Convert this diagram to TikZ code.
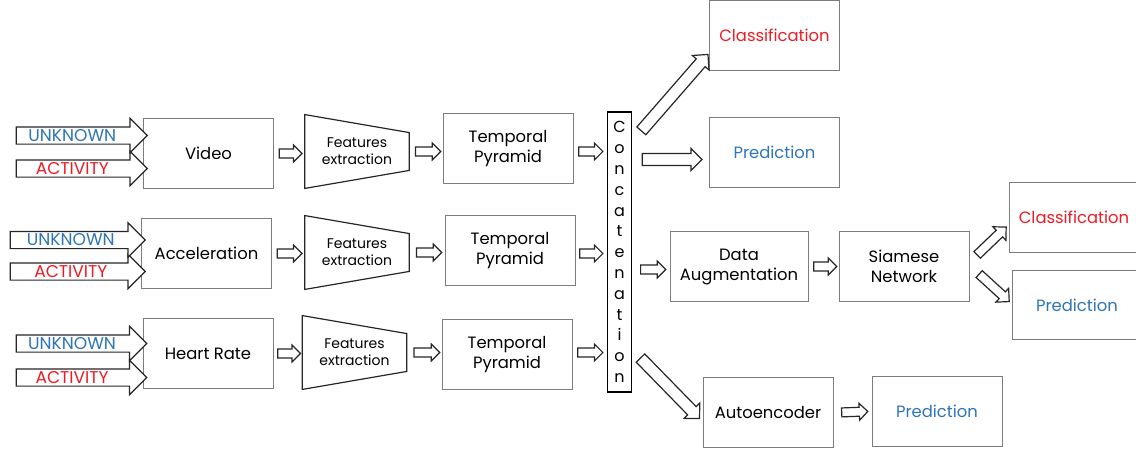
\documentclass[tikz,border=0pt]{standalone}
\usepackage{fontspec}
\setmainfont{Poppins}
\usetikzlibrary{shapes.arrows, calc}
\definecolor{clsRed}{RGB}{237, 28, 36}
\definecolor{predBlue}{RGB}{46, 117, 182}
\definecolor{boxGray}{RGB}{125, 125, 125}

% hollow block arrow drawn between two points
\tikzset{
  link/.style={to path={let \p1=(\tikztostart), \p2=(\tikztotarget), \n1={veclen(\x2-\x1,\y2-\y1)} in
      (\tikztostart) -- (\tikztotarget)
      node[midway, sloped, single arrow, draw=black!85, fill=white, inner xsep=0pt, line width=0.9pt,
           minimum height=\n1, arrow size] {} \tikztonodes}},
}

\begin{document}
\begin{tikzpicture}[x=0.75pt, y=-0.75pt]
  \tikzstyle{block} = [draw=boxGray, line width=0.7pt, rectangle, minimum width=97.5pt, minimum height=52pt, align=center, font=\fontsize{12.3}{15}\selectfont]
  \tikzstyle{fe} = [rectangle, minimum width=78pt, minimum height=55pt, align=center, font=\fontsize{10.5}{13}\selectfont]
  \tikzstyle{trap} = [draw=black!85, line width=0.9pt]
  \tikzstyle{concat} = [draw, line width=1.3pt, minimum width=18pt, minimum height=210pt, inner sep=0pt, align=center, font=\fontsize{12}{15.6}\selectfont]
  \tikzstyle{small} = [link, arrow size/.style={inner ysep=2.9pt, single arrow head extend=3pt}]
  \tikzstyle{big} = [link, arrow size/.style={inner ysep=4pt, single arrow head extend=3.8pt}]
  \tikzstyle{mid} = [link, arrow size/.style={inner ysep=3pt, single arrow head extend=3.6pt}]
  \tikzstyle{input} = [link, arrow size/.style={inner ysep=6pt, single arrow head extend=6.5pt}]
  \tikzstyle{label} = [font=\fontsize{12.8}{14}\selectfont, inner sep=0pt]

  \useasboundingbox (0,0) rectangle (1136,451);

  % sensors
  \node [block] (video) at (208.5,153.5) {Video};
  \node [block] (acc) at (206.5,253.5) {Acceleration};
  \node [block] (hr) at (208,353.5) {Heart Rate};

  % inputs
  \coordinate (u1) at (12,135.5);
  \coordinate (a1) at (12,168.5);
  \coordinate (u2) at (6,240);
  \coordinate (a2) at (6,271.5);
  \coordinate (u3) at (12,343.5);
  \coordinate (a3) at (12,377.5);
  \path [input] (a1) to node[label, pos=0.46, text=clsRed] {ACTIVITY} (a1 -| video.west);
  \path [input] (u1) to node[label, pos=0.46, text=predBlue] {UNKNOWN} (u1 -| video.west);
  \path [input] (a2) to node[label, pos=0.48, text=clsRed] {ACTIVITY} (a2 -| acc.west);
  \path [input] (u2) to node[label, pos=0.48, text=predBlue] {UNKNOWN} (u2 -| acc.west);
  \path [input] (a3) to node[label, pos=0.46, text=clsRed] {ACTIVITY} (a3 -| hr.west);
  \path [input] (u3) to node[label, pos=0.46, text=predBlue] {UNKNOWN} (u3 -| hr.west);

  % features extraction
  \node [fe] (fe1) at (357,151.5) {Features\\extraction};
  \node [fe] (fe2) at (357,252.5) {Features\\extraction};
  \node [fe] (fe3) at (354.5,352.5) {Features\\extraction};
  \foreach \f in {fe1, fe2, fe3}
    \draw [trap] (\f.north west) -- ($(\f.north east)+(0,18)$) -- ($(\f.south east)+(0,-18)$) -- (\f.south west) -- cycle;

  % temporal pyramids
  \node [block] (tp1) at (508,148.5) {Temporal\\Pyramid};
  \node [block] (tp2) at (510,250.5) {Temporal\\Pyramid};
  \node [block] (tp3) at (507,354.5) {Temporal\\Pyramid};

  \node [concat] (cc) at (619.5,252) {C\\o\\n\\c\\a\\t\\e\\n\\a\\t\\i\\o\\n};

  % outputs
  \node [block, text=clsRed] (cls1) at (774.5,35.5) {Classification};
  \node [block, text=predBlue] (pred1) at (774.5,152.5) {Prediction};
  \node [block, minimum width=103.5pt] (da) at (739,266.5) {Data\\Augmentation};
  \node [block] (sn) at (904,266.5) {Siamese\\Network};
  \node [block, text=clsRed] (cls2) at (1074,217.5) {Classification};
  \node [block, text=predBlue] (pred2) at (1077,305) {Prediction};
  \node [block] (ae) at (768,412.5) {Autoencoder};
  \node [block, text=predBlue] (pred3) at (937,411.5) {Prediction};

  % connections
  \path [small] ($(video.east)+(3,0)$) to ($(video.east -| fe1.west)+(-5,0)$);
  \path [small] ($(acc.east)+(3,0)$) to ($(acc.east -| fe2.west)+(-5,0)$);
  \path [small] ($(hr.east)+(2,0)$) to ($(hr.east -| fe3.west)+(-4,0)$);
  \path [small] ($(fe1.east)+(4,0)$) to ($(fe1.east -| tp1.west)+(-4,0)$);
  \path [small] ($(fe2.east)+(5,0)$) to ($(fe2.east -| tp2.west)+(-5,0)$);
  \path [small] ($(fe3.east)+(5,0)$) to ($(fe3.east -| tp3.west)+(-4,0)$);
  \path [small] ($(tp1.east)+(3,3)$) to ($(tp1.east -| cc.west)+(-6,3)$);
  \path [small] ($(tp2.east)+(2,3)$) to ($(tp2.east -| cc.west)+(-6,3)$);
  \path [small] ($(tp3.east)+(3,-2)$) to ($(tp3.east -| cc.west)+(-6,-2)$);
  \path [big] ($(cc.north east)+(7,22)$) to ($(cls1.south west)+(-3,-14)$);
  \path [big] ($(cc.east |- pred1.west)+(7,7)$) to ($(pred1.west)+(-10,7)$);
  \path [small] ($(cc.east |- da.west)+(6,3)$) to ($(da.west)+(-6,3)$);
  \path [big] ($(cc.south east)+(6,-37)$) to ($(ae.west)+(-5,4)$);
  \path [small] ($(da.east)+(3,0)$) to ($(sn.west)+(-4,0)$);
  \path [mid] ($(sn.east)+(6,-10)$) to ($(cls2.south west)+(-4,-24)$);
  \path [mid] ($(sn.east)+(8,6)$) to ($(pred2.west)+(-4,-5)$);
  \path [small] ($(ae.east)+(6,0)$) to ($(pred3.west)+(-6,0)$);
\end{tikzpicture}
\end{document}
